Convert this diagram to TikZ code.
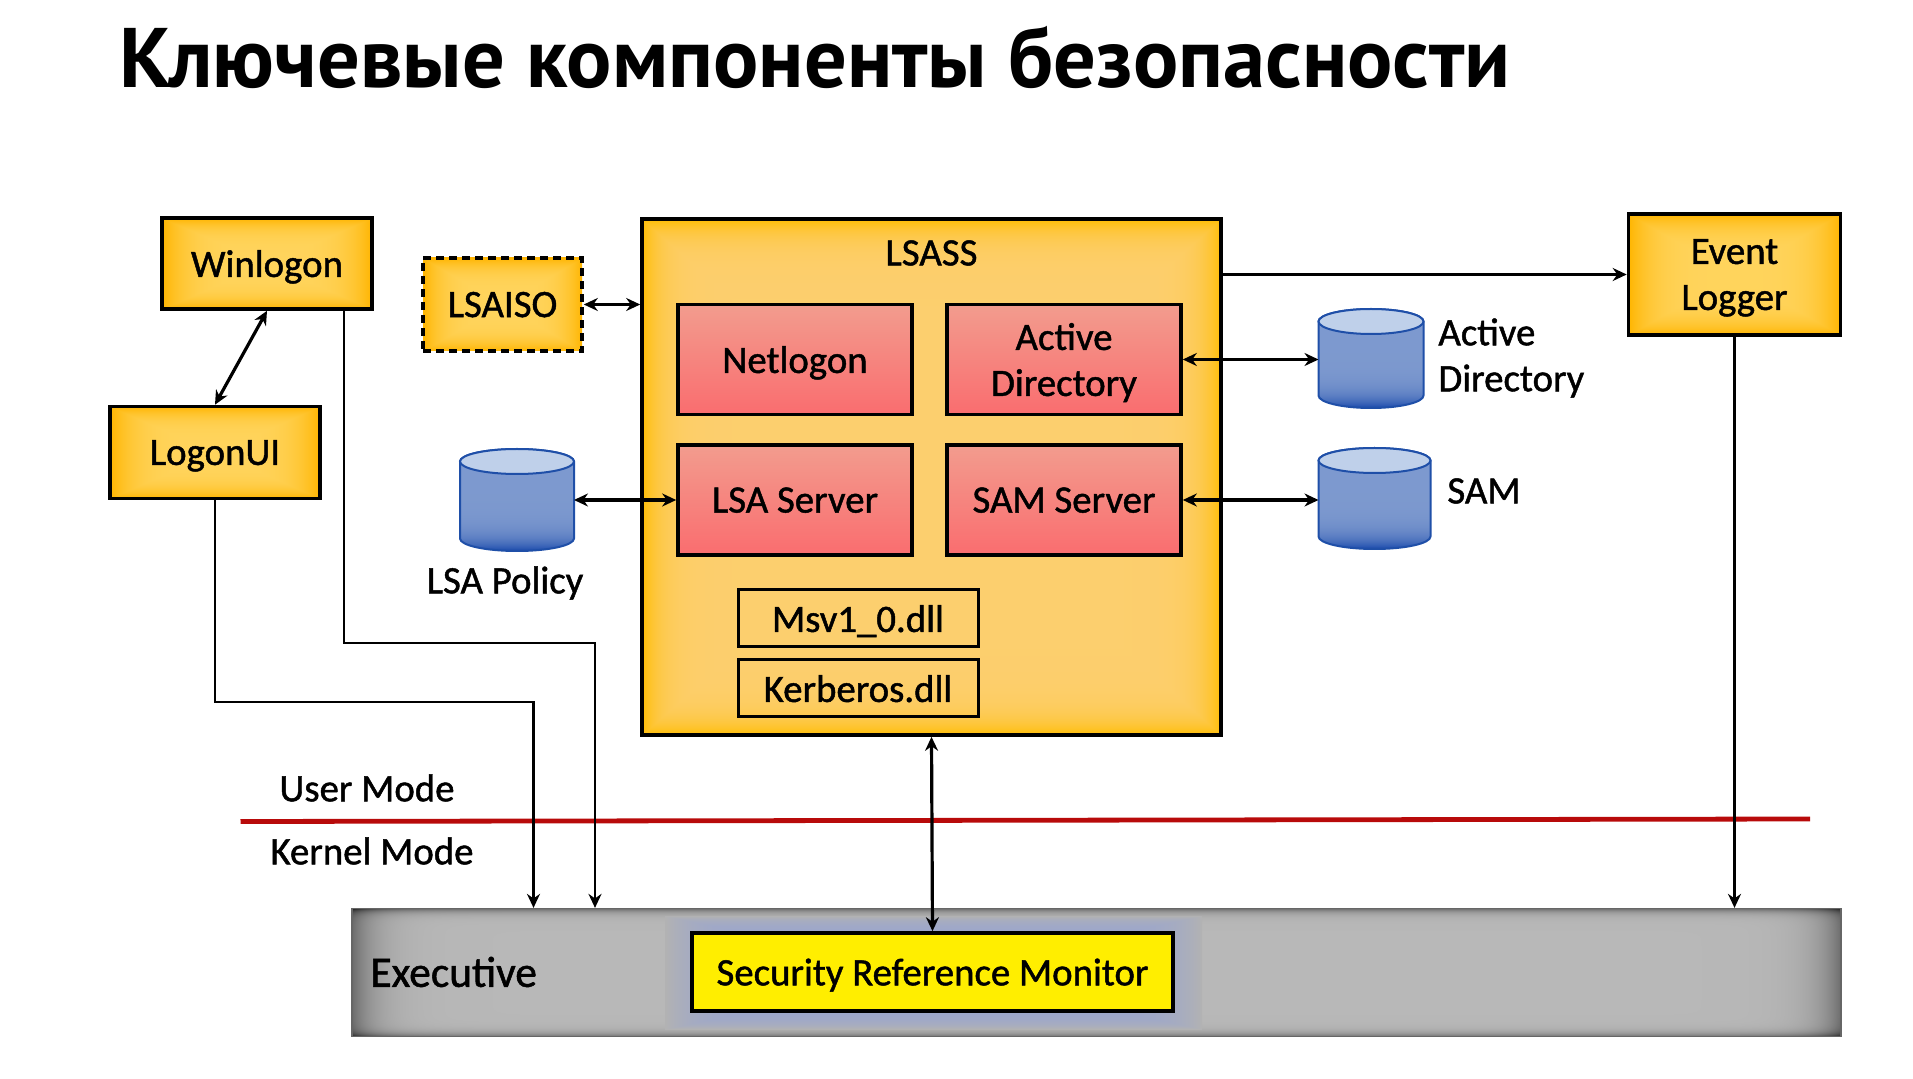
\documentclass[tikz,border=0pt]{standalone}
\usepackage{fontspec}
\setmainfont{Carlito}
\newfontfamily\bodyfont[FakeBold=1.2]{Carlito}
\newfontfamily\titlefont{PT Sans Bold}
\usetikzlibrary{calc,positioning,arrows.meta}
\definecolor{redtop}{HTML}{F29C8E}
\definecolor{redbottom}{HTML}{FA6D6F}
\definecolor{srmyellow}{HTML}{FFEE00}
\definecolor{drumedge}{HTML}{1F4FA8}
\definecolor{drumlidfill}{HTML}{BFD0EA}
\definecolor{modered}{HTML}{B80A0A}
\pgfdeclarefunctionalshading{amberglow}{\pgfpoint{-50bp}{-50bp}}{\pgfpoint{50bp}{50bp}}{}{
	abs exch abs 2 copy lt {exch} if pop 25 div dup mul dup mul
	dup 0.0 mul 1.0 add exch dup -0.12 mul 0.83 add exch -0.36 mul 0.36 add}
\pgfdeclarefunctionalshading{lsassglow}{\pgfpoint{-50bp}{-50bp}}{\pgfpoint{50bp}{50bp}}{}{
	abs exch abs 2 copy lt {exch} if pop 25 div dup mul dup mul dup mul dup mul
	dup 0.01 mul 0.99 add exch dup -0.07 mul 0.81 add exch -0.42 mul 0.43 add}
\pgfdeclarefunctionalshading{execglow}{\pgfpoint{-50bp}{-50bp}}{\pgfpoint{50bp}{50bp}}{}{
	abs 25 div dup mul dup mul dup mul dup mul exch abs 25 div dup mul dup mul dup mul dup mul dup mul add
	dup -0.30 mul 0.72 add exch dup -0.30 mul 0.72 add exch -0.30 mul 0.72 add}
\pgfdeclarefunctionalshading{haloglow}{\pgfpoint{-50bp}{-50bp}}{\pgfpoint{50bp}{50bp}}{}{
	abs exch abs 2 copy lt {exch} if pop 25 div dup mul dup mul dup mul
	dup 0.09 mul 0.61 add exch dup 0.05 mul 0.65 add exch -0.10 mul 0.80 add}
\pgfdeclarefunctionalshading{drumglow}{\pgfpoint{-50bp}{-50bp}}{\pgfpoint{50bp}{50bp}}{}{
	exch pop 25 sub -50 div dup mul dup mul dup mul
	dup -0.40 mul 0.49 add exch dup -0.32 mul 0.60 add exch -0.14 mul 0.81 add}
\tikzset{
	basebox/.style={draw=black,line width=1.8pt,font=\bodyfont\fontsize{19.4}{23}\selectfont,align=center,inner sep=0pt,text depth=0pt},
	amberbox/.style={basebox,shade,shading=amberglow},
	redbox/.style={basebox,top color=redtop,bottom color=redbottom,minimum width=117pt,minimum height=55pt},
	dllbox/.style={basebox,line width=1.5pt,minimum width=120pt,minimum height=28.5pt},
	drum/.style={inner sep=0pt,outer sep=0pt},
	plainlabel/.style={font=\bodyfont\fontsize{19.4}{23}\selectfont,align=left,inner sep=0pt},
	biarrow/.style={{Stealth[length=7pt,width=6.5pt]}-{Stealth[length=7pt,width=6.5pt]},line width=1.6pt},
	onearrow/.style={-{Stealth[length=7pt,width=6.5pt]},line width=1.3pt}
}
\newcommand{\drumbody}[3]{
	\path[shade,shading=drumglow,draw=drumedge,line width=1pt] ($(#1.south west)+(0pt,#3pt)$) arc (180:360:#2pt and #3pt) -- ($(#1.north east)+(0pt,-#3pt)$) arc (0:180:#2pt and #3pt) -- cycle;
	\draw[draw=drumedge,line width=1pt,fill=drumlidfill] ($(#1.north)+(0pt,-#3pt)$) ellipse (#2pt and #3pt);
}
\begin{document}
\begin{tikzpicture}[x=.5pt,y=-.5pt]
	\useasboundingbox (0,0) rectangle (1913,1079);
	\node[anchor=base west,font=\titlefont\fontsize{42.25}{44}\selectfont,inner sep=0pt] (headline) at (119,88) {Ключевые компоненты безопасности};

	% user mode processes
	\node[amberbox,minimum width=105pt,minimum height=45.5pt] (winlogon) at (267,263.5) {Winlogon};
	\node[amberbox,minimum width=105pt,minimum height=46pt] (logonui) at (215,452.5) {LogonUI};
	\node[amberbox,dash pattern=on 4pt off 2.5pt,minimum width=79.5pt,minimum height=46.5pt] (lsaiso) at (502.5,304.5) {LSAISO};
	\node[amberbox,minimum width=106pt,minimum height=60.5pt] (eventlog) at (1734.5,274.5) {Event\\Logger};

	\node[basebox,shade,shading=lsassglow,minimum width=289.5pt,minimum height=258pt] (lsass) at (931.5,477) {};
	\node[plainlabel] (lsasslabel) at (931.5,253) {LSASS};
	\node[redbox] (netlogon) at (795,359.5) {Netlogon};
	\node[redbox] (adserver) at (1064,359.5) {Active\\Directory};
	\node[redbox] (lsaserver) at (795,500) {LSA Server};
	\node[redbox] (samserver) at (1064,500) {SAM Server};
	\node[dllbox] (msv) at (858,618.5) {Msv1\_0.dll};
	\node[dllbox] (kerberos) at (858,688.5) {Kerberos.dll};

	% stores
	\node[drum,minimum width=57pt,minimum height=51pt] (lsastore) at (517,500) {};
	\drumbody{lsastore}{28.5}{6.25}
	\node[drum,minimum width=52.5pt,minimum height=49.5pt] (adstore) at (1371,358.5) {};
	\drumbody{adstore}{26.25}{6.25}
	\node[drum,minimum width=56pt,minimum height=50.5pt] (samstore) at (1374.5,498.5) {};
	\drumbody{samstore}{28}{6.25}
	\node[plainlabel] (lsastorelabel) at (505,583) {LSA Policy};
	\node[plainlabel,anchor=west] (adstorelabel) at (1438,358) {Active\\Directory};
	\node[plainlabel,anchor=west] (samstorelabel) at (1447,491) {SAM};

	% kernel side
	\node[draw=gray!80!black,line width=.6pt,shade,shading=execglow,minimum width=744.5pt,minimum height=64pt,inner sep=0pt] (exec) at (1096.5,972.5) {};
	\path[shade,shading=haloglow] (665,916) rectangle (1202,1029);
	\node[plainlabel,anchor=west,font=\bodyfont\fontsize{21.7}{23}\selectfont] (execlabel) at (370,972) {Executive};
	\node[basebox,fill=srmyellow,minimum width=240.5pt,minimum height=39pt] (srm) at (932.5,972) {Security Reference Monitor};

	% mode border
	\coordinate (modestart) at (240.5,821.5);
	\coordinate (modeend) at (1810,819);
	\draw[modered,line width=2.4pt] (modestart) -- (modeend);
	\node[plainlabel] (usermode) at (367,788) {User Mode};
	\node[plainlabel] (kernelmode) at (372,851) {Kernel Mode};

	\coordinate (logonbend) at (533.5,702);
	\coordinate (winout) at (344,643);
	\coordinate (winbend) at (595,643);
	\draw[biarrow] (winlogon.south) -- (logonui.north);
	\draw[biarrow] (lsaiso.east) -- (lsaiso.east -| lsass.west);
	\draw[biarrow] (lsastore.east |- lsaserver.west) -- (lsaserver.west);
	\draw[biarrow] (adserver.east) -- (adserver.east -| adstore.west);
	\draw[biarrow] (samserver.east) -- (samserver.east -| samstore.west);
	\draw[biarrow] (lsass.south) -- (srm.north);
	\draw[onearrow,line width=1.5pt] (eventlog.west -| lsass.east) -- (eventlog.west);
	\draw[onearrow] (logonui.south) |- (logonbend) -- (logonbend |- exec.north);
	\draw[onearrow] (winout |- winlogon.south) -- (winout) -- (winbend) -- (winbend |- exec.north);
	\draw[onearrow] (eventlog.south) -- (eventlog.south |- exec.north);
\end{tikzpicture}
\end{document}
